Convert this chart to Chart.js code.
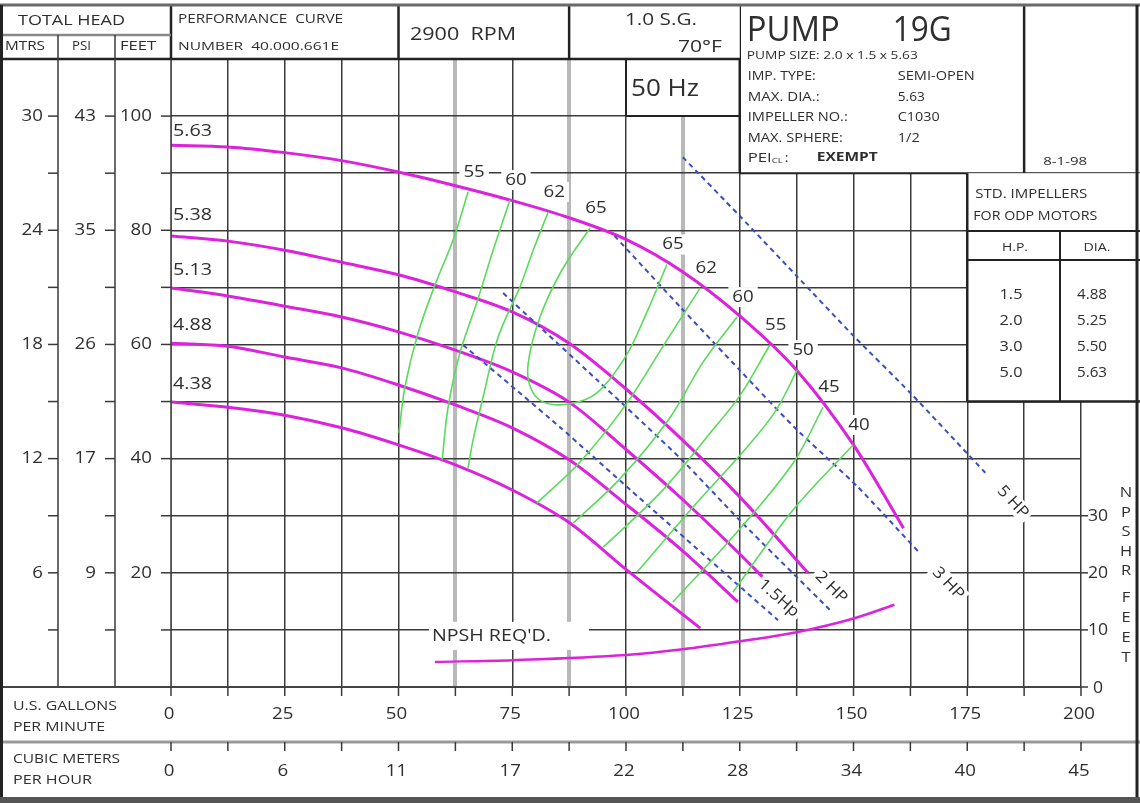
<!DOCTYPE html>
<html>
<head>
<meta charset="utf-8">
<title>Pump 19G - performance curve</title>
<script src="https://cdn.jsdelivr.net/npm/chart.js@4.4.1/dist/chart.umd.min.js"></script>
<style>
  html, body { margin: 0; padding: 0; background: #fff; }
  canvas { display: block; }
</style>
</head>
<body>
<canvas id="pumpChart" width="1140" height="803"></canvas>
<script>
// axis labels
const flowTicks = [0, 25, 50, 75, 100, 125, 150, 175, 200];
const m3hTicks = ['0', '6', '11', '17', '22', '28', '34', '40', '45'];
const feetTicks = [100, 80, 60, 40, 20];
const mtrsTicks = ['30', '24', '18', '12', '6'];
const psiTicks = ['43', '35', '26', '17', '9'];
const npshTicks = [0, 10, 20, 30];

// impeller curves  [gpm, feet]
const impellerDia = ['5.63', '5.38', '5.13', '4.88', '4.38'];
const head563 = [[0,94.9],[12.5,94.6],[25,93.6],[37.5,92.2],[50,90.2],[62.5,87.8],[75,85.2],[87.5,82.2],[100,78.4],[112.5,72.7],[125,65],[137.5,55.5],[150,42.4],[161,27.8]];
const head538 = [[0,79],[12.5,78.1],[25,76.5],[37.5,74.4],[50,72.2],[62.5,69.2],[75,65.7],[87.5,60.2],[100,52.2],[112.5,43.2],[125,33.3],[140,20]];
const head513 = [[0,69.9],[12.5,68.5],[25,66.7],[37.5,64.8],[50,62.2],[62.5,59],[75,55.2],[87.5,49.9],[100,41.6],[112.5,32.8],[125,23.3],[130,19.3]];
const head488 = [[0,60.2],[12.5,59.7],[25,57.8],[37.5,55.9],[50,52.9],[62.5,49.4],[75,45.4],[87.5,39.8],[100,32],[112.5,23.8],[124.6,14.9]];
const head438 = [[0,49.9],[12.5,49],[25,47.6],[37.5,45.4],[50,42.4],[62.5,38.9],[75,34.5],[87.5,28.8],[100,20.6],[116.3,10.3]];

// efficiency lines (%)
const eff55a = [[65.3,86.7],[62,78.3],[58,70.4],[54.3,62],[51.4,52.5],[50.1,44.5]];
const eff60a = [[74.5,85.3],[70.8,76.5],[67.4,67.8],[63.5,58.5],[60.9,49],[59.6,39.8]];
const eff62a = [[82.9,83.2],[79.6,76.5],[76.7,70.1],[71.9,61.3],[68.6,50.8],[66.4,43.3],[65.3,38.4]];
const eff65 = [[92.1,80.4],[85.9,73],[81.1,64.8],[78.5,56.7],[79,52.5],[81.8,49.9],[87.7,49.6],[93.6,51.5],[100,58],[104.5,65.5],[109,74]];
const eff62b = [[80.4,32.2],[90,39.5],[100,49.5],[108,59.5],[116.3,69.9]];
const eff60b = [[88.4,28.7],[98.7,36.5],[109.5,47],[117,57],[124.4,64.8]];
const eff55b = [[95,24.5],[107.5,34],[118.5,44.5],[125,51],[131.6,59.9]];
const eff50 = [[102.4,20.1],[114.7,31.5],[126.6,42],[133,48.5],[137.6,55.5]];
const eff45 = [[110.3,14.9],[123.5,26.3],[136.7,39.2],[143.3,49]];
const eff40 = [[123.5,16.6],[136.7,31],[149.9,42.4]];
const effNames = ['55', '60', '62', '65', '62', '60', '55', '50', '45', '40'];

// motor power lines
const hpNames = ['1.5Hp', '2 HP', '3 HP', '5 HP'];
const hp15 = [[64.2,59.9],[85.5,45.5],[101,34.5],[133.4,11.7]];
const hp2 = [[73,69],[93.6,53.8],[112,40],[125,29.2],[144.8,13.5]];
const hp3 = [[97.5,79],[112,66.5],[125,55.5],[137,45.5],[151,35],[164.5,23.5]];
const hp5 = [[112.5,92.8],[125,82.5],[137.5,72],[150,61.5],[162.5,51.5],[179,37.5]];

// NPSH required (feet)
const npshReq = [[58,4.4],[75,4.7],[100,5.6],[112.5,6.6],[125,8],[137.5,9.6],[150,12],[159,14.4]];

// std impeller table
const stdHp = ['1.5', '2.0', '3.0', '5.0'];
const stdDia = ['4.88', '5.25', '5.50', '5.63'];

const MAGENTA = '#dc22dc';
const GREEN = '#5ada5a';
const BLUE = '#3b4cc0';
const INK = '#2e2e2e';
const GRID = '#3a3a3a';
const FONT = "'Open Sans', 'Noto Sans', sans-serif";

const impCurves = [head563, head538, head513, head488, head438];
const effLines = [eff55a, eff60a, eff62a, eff65, eff62b, eff60b, eff55b, eff50, eff45, eff40];
const hpLines = [hp15, hp2, hp3, hp5];

const pts = a => a.map(p => ({x: p[0], y: p[1]}));

let datasets = [];
effLines.forEach(l => datasets.push({
    data: pts(l), borderColor: GREEN, borderWidth: 1.6, tension: 0.35, pointRadius: 0
}));
hpLines.forEach(l => datasets.push({
    data: pts(l), borderColor: BLUE, borderWidth: 2, borderDash: [5, 4], tension: 0.2, pointRadius: 0
}));
impCurves.forEach(l => datasets.push({
    data: pts(l), borderColor: MAGENTA, borderWidth: 3, cubicInterpolationMode: 'monotone', pointRadius: 0
}));
datasets.push({
    data: pts(npshReq), yAxisID: 'yN', borderColor: MAGENTA, borderWidth: 2.5, cubicInterpolationMode: 'monotone', pointRadius: 0
});

// text, optionally squeezed/stretched to a given width (the sheet uses a condensed face)
function txt(ctx, s, x, y, size, align, fitW, weight){
    ctx.font = (weight || '') + ' ' + size + 'px ' + FONT;
    ctx.textBaseline = 'middle';
    ctx.textAlign = align || 'left';
    ctx.fillStyle = INK;
    let w = ctx.measureText(s).width;
    ctx.save();
    ctx.translate(x, y);
    ctx.scale(fitW ? fitW / w : 1.1, 1);
    ctx.fillText(s, 0, 0);
    ctx.restore();
}
function seg(ctx, x1, y1, x2, y2, w, c){
    ctx.beginPath();
    ctx.moveTo(x1, y1);
    ctx.lineTo(x2, y2);
    ctx.lineWidth = w;
    ctx.strokeStyle = c || GRID;
    ctx.stroke();
}
function whiteLabel(ctx, s, cx, cy, size){
    ctx.font = size + 'px ' + FONT;
    let w = ctx.measureText(s).width * 1.1;
    ctx.fillStyle = '#fff';
    ctx.fillRect(cx - w / 2 - 4, cy - 10, w + 8, 20);
    txt(ctx, s, cx, cy, size, 'center');
}

const sheet = {
    id: 'sheet',
    beforeDraw(chart){
        let ctx = chart.ctx;
        ctx.save();
        ctx.fillStyle = '#fff';
        ctx.fillRect(0, 0, chart.width, chart.height);
        ctx.restore();
    },
    beforeDatasetsDraw(chart){
        const ctx = chart.ctx;
        const x = chart.scales.x, y = chart.scales.y;
        ctx.save();
        // efficiency labels at the top ends of each line
        effLines.forEach((l, i) => {
            let top = Math.max(...l.map(p => p[1]));
            [l[0], l[l.length - 1]].forEach(p => {
                if(p[1] < top - 8) return;
                whiteLabel(ctx, effNames[i], x.getPixelForValue(p[0]) + 6, y.getPixelForValue(p[1]) - 20, 17);
            });
        });
        // impeller diameters
        const dy = [-14, -21, -18, -18, -18];
        impCurves.forEach((l, i) => {
            txt(ctx, impellerDia[i], x.getPixelForValue(l[0][0]) + 2, y.getPixelForValue(l[0][1]) + dy[i], 17, 'left', 39);
        });
        // power labels along the lines
        const along = [-14, -15, 42, 40], perp = [17, 17, 0, 0];
        hpLines.forEach((l, i) => {
            let a = l[l.length - 2], b = l[l.length - 1];
            let x1 = x.getPixelForValue(a[0]), y1 = y.getPixelForValue(a[1]);
            let x2 = x.getPixelForValue(b[0]), y2 = y.getPixelForValue(b[1]);
            let len = Math.hypot(x2 - x1, y2 - y1), dx = (x2 - x1) / len, dyy = (y2 - y1) / len;
            let cx = x2 + dx * along[i] + dyy * perp[i];
            let cy = y2 + dyy * along[i] - dx * perp[i];
            ctx.save();
            ctx.translate(cx, cy);
            ctx.rotate(Math.atan2(dyy, dx));
            ctx.font = '16px ' + FONT;
            let w = ctx.measureText(hpNames[i]).width * 1.1;
            ctx.fillStyle = '#fff';
            ctx.fillRect(-w / 2 - 3, -9, w + 6, 18);
            txt(ctx, hpNames[i], 0, 0, 16, 'center');
            ctx.restore();
        });
        // npsh label
        let nx = x.getPixelForValue(npshReq[0][0]), ny = chart.scales.yN.getPixelForValue(npshReq[0][1]);
        ctx.fillStyle = '#fff';
        ctx.fillRect(nx - 6, ny - 40, 160, 28);
        txt(ctx, "NPSH REQ'D.", nx - 3, ny - 26, 17, 'left', 119);
        ctx.restore();
    },
    afterDatasetsDraw(chart){
        const ctx = chart.ctx;
        const x = chart.scales.x, y = chart.scales.y, yN = chart.scales.yN;
        const W = chart.width;
        const L = x.getPixelForValue(0), R = x.getPixelForValue(200);
        const B = y.getPixelForValue(0), T = y.getPixelForValue(110);
        ctx.save();

        // 50 Hz cell
        let hzL = x.getPixelForValue(100), hzR = x.getPixelForValue(125), hzB = y.getPixelForValue(100);
        ctx.fillStyle = '#fff';
        ctx.fillRect(hzL, T, hzR - hzL, hzB - T);
        seg(ctx, hzL, T, hzL, hzB, 2, '#222');
        seg(ctx, hzL, hzB, hzR, hzB, 2, '#222');
        txt(ctx, '50 Hz', hzL + 5, (T + hzB) / 2 + 2, 23, 'left', 68);

        // pump box + date box
        let pL = x.getPixelForValue(125), pB = y.getPixelForValue(90), dL = x.getPixelForValue(187.5);
        ctx.fillStyle = '#fff';
        ctx.fillRect(pL, 0, W - pL, pB);
        seg(ctx, pL, 5, pL, pB, 2.5, '#222');
        seg(ctx, dL, 5, dL, pB, 2.5, '#222');
        seg(ctx, pL, pB, W, pB, 2, '#222');
        txt(ctx, 'PUMP', pL + 7, 31, 34, 'left', 93);
        txt(ctx, '19G', pL + 153, 31, 34, 'left', 59);
        txt(ctx, 'PUMP SIZE: 2.0 x 1.5 x 5.63', pL + 7, 56, 11, 'left', 171);
        const rows = [['IMP. TYPE:', 'SEMI-OPEN', 68, 77], ['MAX. DIA.:', '5.63', 72, 27], ['IMPELLER NO.:', 'C1030', 100, 42], ['MAX. SPHERE:', '1/2', 95, 22]];
        rows.forEach((r, i) => {
            txt(ctx, r[0], pL + 8, 77 + i * 20.5, 12, 'left', r[2]);
            txt(ctx, r[1], pL + 158, 77 + i * 20.5, 12, 'left', r[3]);
        });
        txt(ctx, 'PEI', pL + 8, 158, 13, 'left', 24);
        txt(ctx, 'CL', pL + 32, 161, 8, 'left', 11);
        txt(ctx, ':', pL + 45, 158, 13);
        txt(ctx, 'EXEMPT', pL + 77, 157, 13, 'left', 61, 'bold');
        txt(ctx, '8-1-98', dL + 41, 162, 10, 'center', 44);

        // std impellers table
        let tL = x.getPixelForValue(175), tB = y.getPixelForValue(50);
        ctx.fillStyle = '#fff';
        ctx.fillRect(tL, pB, W - tL, tB - pB);
        seg(ctx, tL, pB, tL, tB, 2.5, '#222');
        seg(ctx, tL, tB, W, tB, 2.5, '#222');
        seg(ctx, tL, 231, W, 231, 2, '#222');
        seg(ctx, tL, 260, W, 260, 2, '#222');
        seg(ctx, 1060, 231, 1060, tB, 2, '#222');
        txt(ctx, 'STD. IMPELLERS', tL + 8, 195, 12, 'left', 112);
        txt(ctx, 'FOR ODP MOTORS', tL + 6, 217, 12, 'left', 124);
        txt(ctx, 'H.P.', 1015, 248, 11, 'center', 26);
        txt(ctx, 'DIA.', 1097, 248, 11, 'center', 27);
        stdHp.forEach((h, i) => {
            txt(ctx, h, 1011, 295 + i * 26, 14, 'center', 23);
            txt(ctx, stdDia[i], 1092, 295 + i * 26, 14, 'center', 30);
        });

        // header strip
        ctx.fillStyle = '#fff';
        ctx.fillRect(0, 0, pL, T - 1);
        ctx.fillRect(0, T, L, B - T);
        const sep1 = x.getPixelForValue(50), sep2 = x.getPixelForValue(87.5);
        seg(ctx, L, 5, L, T, 2.5, '#222');
        seg(ctx, sep1, 5, sep1, T, 2.5, '#222');
        seg(ctx, sep2, 5, sep2, T, 2.5, '#222');
        seg(ctx, 0, T, pL, T, 2.5, '#222');
        seg(ctx, 0, 35, L, 35, 2.5, '#888');
        txt(ctx, 'TOTAL HEAD', 18, 21, 15, 'left', 107);
        txt(ctx, 'MTRS', 5, 47, 12, 'left', 40);
        txt(ctx, 'PSI', 72, 47, 12, 'left', 19);
        txt(ctx, 'FEET', 120, 47, 12, 'left', 36);
        txt(ctx, 'PERFORMANCE  CURVE', L + 7, 20, 12, 'left', 165);
        txt(ctx, 'NUMBER  40.000.661E', L + 7, 47, 11, 'left', 161);
        txt(ctx, '2900  RPM', 410, 35, 19, 'left', 106);
        txt(ctx, '1.0 S.G.', 625, 20, 17, 'left', 72);
        txt(ctx, '70\u00B0F', 722, 47, 17, 'right', 44);

        // left head scales
        seg(ctx, 58, 35, 58, B, 1.5);
        seg(ctx, 115, 35, 115, B, 1.5);
        seg(ctx, L, T, L, B, 1.5);
        for(let v = 10; v <= 100; v += 10){
            let py = y.getPixelForValue(v);
            seg(ctx, 48, py, 58, py, 1.5);
            seg(ctx, 105, py, 115, py, 1.5);
            seg(ctx, L - 10, py, L, py, 1.5);
        }
        feetTicks.forEach((v, i) => {
            let py = y.getPixelForValue(v);
            txt(ctx, mtrsTicks[i], 43, py, 17, 'right');
            txt(ctx, psiTicks[i], 96, py, 17, 'right');
            txt(ctx, String(v), 152, py, 17, 'right');
        });

        // flow scales at the bottom
        ctx.fillStyle = '#fff';
        ctx.fillRect(0, B + 1, W, chart.height - B);
        ctx.fillRect(R + 1, tB + 2, W - R - 1, B - tB);
        seg(ctx, 0, B, R, B, 2, '#444');
        seg(ctx, 0, 742, W, 742, 3, '#9a9a9a');
        for(let g = 0; g <= 200; g += 12.5){
            let px = x.getPixelForValue(g);
            seg(ctx, px, B, px, B + 9, 1.5);
            seg(ctx, px, 742, px, 751, 1.5);
        }
        flowTicks.forEach((g, i) => {
            let px = x.getPixelForValue(g);
            txt(ctx, String(g), px - 2, 714, 17, 'center');
            txt(ctx, m3hTicks[i], px - 2, 771, 17, 'center');
        });
        txt(ctx, 'U.S. GALLONS', 13, 706, 13, 'left', 104);
        txt(ctx, 'PER MINUTE', 13, 727, 13, 'left', 92);
        txt(ctx, 'CUBIC METERS', 13, 759, 13, 'left', 107);
        txt(ctx, 'PER HOUR', 13, 780, 13, 'left', 79);

        // NPSHR scale on the right
        npshTicks.forEach(v => {
            let py = yN.getPixelForValue(v);
            seg(ctx, R, py, R + 7, py, 1.5);
            txt(ctx, String(v), R + 17, py + 1, 16, 'center');
        });
        'NPSHR'.split('').forEach((c, i) => txt(ctx, c, 1126, 493 + i * 19.5, 15, 'center'));
        'FEET'.split('').forEach((c, i) => txt(ctx, c, 1126, 598 + i * 20, 15, 'center'));

        // outer frame
        seg(ctx, 0, 5, W, 5, 3, '#6a6a6a');
        seg(ctx, 1.5, 5, 1.5, 803, 3, '#222');
        seg(ctx, W - 3, 5, W - 3, 800, 3, '#222');
        seg(ctx, 0, 800, W, 800, 6, '#555');
        ctx.restore();
    }
};

const isMetricLine = v => v === 62.5 || v === 87.5 || v === 112.5;

new Chart(document.getElementById('pumpChart').getContext('2d'), {
    type: 'line',
    data: { datasets: datasets },
    options: {
        responsive: false,
        animation: false,
        events: [],
        layout: { padding: { left: 171, right: 59, top: 59, bottom: 116 } },
        plugins: { legend: { display: false }, tooltip: { enabled: false } },
        scales: {
            x: {
                type: 'linear', min: 0, max: 200,
                ticks: { display: false, stepSize: 12.5 },
                border: { display: false },
                grid: {
                    drawTicks: false, z: -2,
                    color: c => (c.tick && isMetricLine(c.tick.value)) ? '#b9b9b9' : GRID,
                    lineWidth: c => (c.tick && isMetricLine(c.tick.value)) ? 4 : 1.5
                },
                afterFit: s => { s.height = 0; }
            },
            y: {
                min: 0, max: 110,
                ticks: { display: false, stepSize: 10 },
                border: { display: false },
                grid: { drawTicks: false, color: GRID, lineWidth: 1.5 },
                afterFit: s => { s.width = 0; }
            },
            yN: {
                position: 'right', min: 0, max: 110, display: false
            }
        }
    },
    plugins: [sheet]
});
</script>
</body>
</html>
